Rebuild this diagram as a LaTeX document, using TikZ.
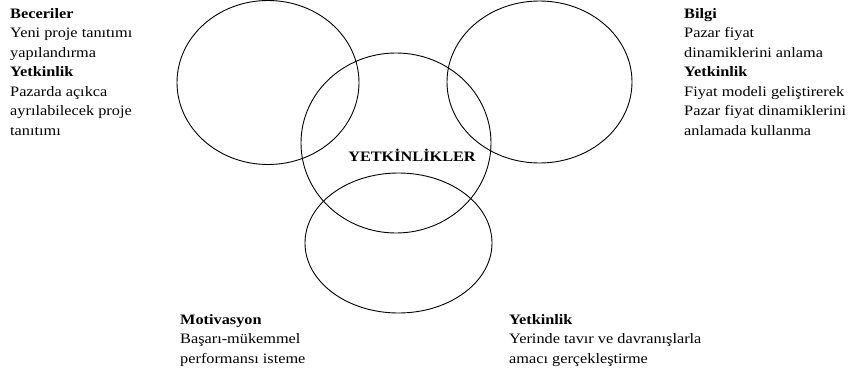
\documentclass[tikz,border=0pt]{standalone}
\usepackage{fontspec}
\setmainfont{Liberation Serif}
\begin{document}
\begin{tikzpicture}[x=1pt,y=-1pt,
  ring/.style={draw=black,line width=0.9pt},
  label/.style={anchor=north west,inner sep=0pt,align=left,
    font=\fontsize{14.4}{19.5}\selectfont,xscale=1.13,transform shape}]
\useasboundingbox (0,0) rectangle (852,375);
% the four overlapping rings
\draw[ring] (268,82.5) ellipse [x radius=91,y radius=82];
\draw[ring] (539.5,82) ellipse [x radius=92.5,y radius=81];
\draw[ring] (396,143) ellipse [x radius=95,y radius=90];
\draw[ring] (398.5,243) ellipse [x radius=93.5,y radius=70];
% centre title
\node[font=\fontsize{14.4}{19.5}\selectfont\bfseries,xscale=1.13,transform shape,inner sep=0pt]
  (title) at (412,155) {YETKİNLİKLER};
% side texts
\node[label] (skills) at (10,8.3) {\textbf{Beceriler}\\Yeni proje tanıtımı\\yapılandırma\\\textbf{Yetkinlik}\\Pazarda açıkca\\ayrılabilecek proje\\tanıtımı};
\node[label] (knowledge) at (684,8.3) {\textbf{Bilgi}\\Pazar fiyat\\dinamiklerini anlama\\\textbf{Yetkinlik}\\Fiyat modeli geliştirerek\\Pazar fiyat dinamiklerini\\anlamada kullanma};
\node[label] (motivation) at (180,314) {\textbf{Motivasyon}\\Başarı-mükemmel\\performansı isteme};
\node[label] (behaviour) at (509,314) {\textbf{Yetkinlik}\\Yerinde tavır ve davranışlarla\\amacı gerçekleştirme};
\end{tikzpicture}
\end{document}
